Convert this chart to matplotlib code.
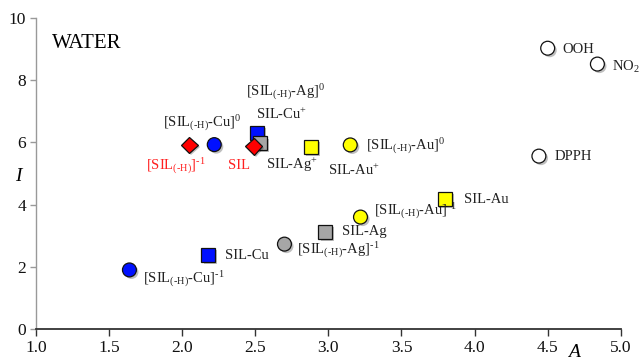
import matplotlib
matplotlib.use("Agg")
import matplotlib.pyplot as plt
import matplotlib.patheffects as pe

plt.rcParams['font.family'] = ['Liberation Serif', 'DejaVu Serif']
plt.rcParams['mathtext.fontset'] = 'custom'
plt.rcParams['mathtext.rm'] = 'Liberation Serif'
plt.rcParams['mathtext.it'] = 'Liberation Serif:italic'

# data
A_vals = [2.05, 2.49, 2.22, 2.51, 2.53, 2.88, 3.15, 4.50, 4.84, 4.44, 3.80, 3.22, 2.98, 2.70, 2.18, 1.64]
I_vals = [5.92, 5.88, 5.93, 6.30, 5.97, 5.85, 5.92, 9.03, 8.52, 5.56, 4.18, 3.60, 3.12, 2.73, 2.38, 1.90]
markers = ['D', 'D', 'o', 's', 's', 's', 'o', 'o', 'o', 'o', 's', 'o', 's', 'o', 's', 'o']
colors = ['#ff0000', '#ff0000', '#0010ff', '#0010ff', '#a6a6a6', '#ffff00', '#ffff00',
          '#ffffff', '#ffffff', '#ffffff', '#ffff00', '#ffff00', '#a6a6a6', '#a6a6a6',
          '#0010ff', '#0010ff']
draw_order = [3, 4, 0, 2, 1, 5, 6, 7, 8, 9, 10, 11, 12, 13, 14, 15]

H = r'$_{\mathrm{(\text{-}H)}}$'
M1 = r'$^{\text{-}1}$'
label_texts = ['[SIL' + H + ']' + M1, 'SIL', '[SIL' + H + '-Cu]$^{0}$', 'SIL-Cu$^{+}$',
               '[SIL' + H + '-Ag]$^{0}$', 'SIL-Ag$^{+}$', 'SIL-Au$^{+}$', '[SIL' + H + '-Au]$^{0}$',
               'OOH', 'NO$_{2}$', 'DPPH', 'SIL-Au', '[SIL' + H + '-Au]' + M1, 'SIL-Ag',
               '[SIL' + H + '-Ag]' + M1, 'SIL-Cu', '[SIL' + H + '-Cu]' + M1]
label_anchor = [0, 1, 2, 3, 4, 4, 5, 6, 7, 8, 9, 10, 11, 12, 13, 14, 15]
label_colors = ['#ff2020', '#ff2020'] + ['#222222'] * 15
label_offsets = [(-43, -21), (-26, -19), (-51, 21), (-1, 19), (-14, 51), (6, -22), (17, -23),
                 (16, -1), (15, -1), (15, -3), (16, 0), (19, 0), (14, 6), (17, 0), (13, -6),
                 (17, 0), (14, -9)]

fig = plt.figure(figsize=(6.4, 3.61), dpi=100)
ax = fig.add_axes([0.056, 0.0886, 0.914, 0.8614])

shadow = [pe.SimplePatchShadow(offset=(1.5, -1.5), shadow_rgbFace='#000000', alpha=0.25), pe.Normal()]
for i in draw_order:
    ax.plot([A_vals[i]], [I_vals[i]], marker=markers[i], linestyle='none',
            markersize=10 if markers[i] != 'D' else 8.5, markerfacecolor=colors[i],
            markeredgecolor='#111111', markeredgewidth=0.9, path_effects=shadow, zorder=3)

for t, a, c, off in zip(label_texts, label_anchor, label_colors, label_offsets):
    ax.annotate(t, (A_vals[a], I_vals[a]), xytext=off, textcoords='offset pixels',
                ha='left', va='center', fontsize=10.5, color=c, zorder=4)

ax.set_xlim(1.0, 5.0)
ax.set_ylim(0, 10)
ax.set_xticks([1.0, 1.5, 2.0, 2.5, 3.0, 3.5, 4.0, 4.5, 5.0])
ax.set_xticklabels(['1.0', '1.5', '2.0', '2.5', '3.0', '3.5', '4.0', '4.5', '5.0'])
ax.set_yticks([0, 2, 4, 6, 8, 10])
for s in ['top', 'right']:
    ax.spines[s].set_visible(False)
ax.spines['left'].set_color('#999999')
ax.spines['left'].set_linewidth(1.0)
ax.spines['bottom'].set_color('#333333')
ax.spines['bottom'].set_linewidth(1.3)
ax.tick_params(axis='x', direction='out', length=5, width=1.0, color='#333333',
               labelsize=12.5, pad=3, labelcolor='#111111')
ax.tick_params(axis='y', direction='out', length=4, width=1.0, color='#999999',
               labelsize=12.5, pad=3, labelcolor='#111111')

ax.text(0.027, 0.918, 'WATER', transform=ax.transAxes, fontsize=15, ha='left', va='center')
ax.set_ylabel('I', fontstyle='italic', fontsize=14, rotation=0, labelpad=8, va='center')
ax.yaxis.set_label_coords(-0.03, 0.49)
ax.text(0.92, -0.075, 'A', transform=ax.transAxes, fontstyle='italic', fontsize=14,
        ha='center', va='center')

fig.savefig('out.png', dpi=100)
